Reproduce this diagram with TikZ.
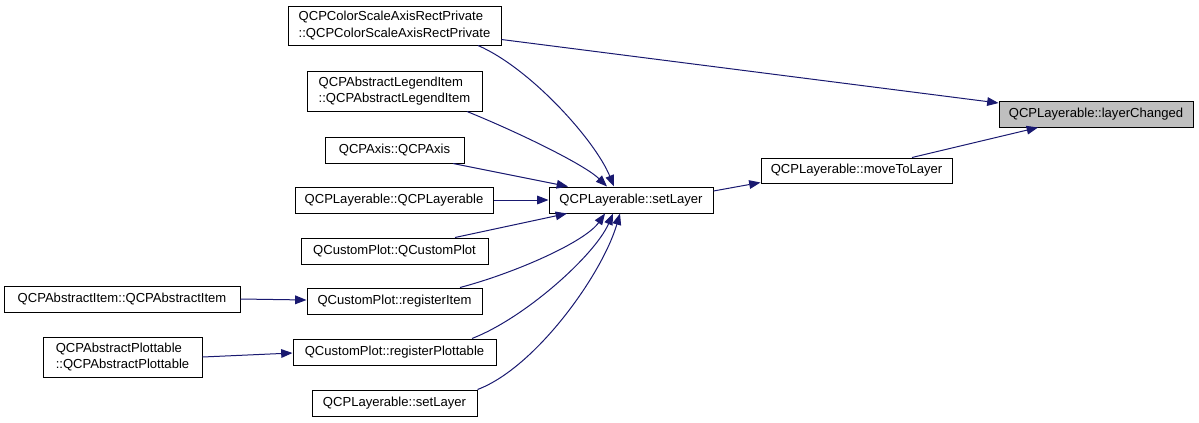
\documentclass[tikz,border=0pt]{standalone}
\usepackage{fontspec}
\setmainfont{Liberation Sans}
\usetikzlibrary{arrows.meta,calc}
\definecolor{edgeblue}{HTML}{191970}
\definecolor{hlgray}{HTML}{BFBFBF}
\begin{document}
\begin{tikzpicture}[x=0.75pt,y=-0.75pt,
  box/.style={draw=black,line width=0.75pt,fill=white,inner sep=1pt,align=left,
    font=\fontsize{9.8}{12.5}\selectfont},
  edge/.style={draw=edgeblue,line width=0.75pt,-{Triangle[length=8.5pt,width=6.5pt]}}]
\useasboundingbox (0,0) rectangle (1199,422);
% nodes
\node[box,minimum width=213*0.75pt,minimum height=39*0.75pt] (cs) at (394.5,25.5) {QCPColorScaleAxisRectPrivate\\::QCPColorScaleAxisRectPrivate};
\node[box,minimum width=175*0.75pt,minimum height=40*0.75pt] (leg) at (394.5,91) {QCPAbstractLegendItem\\::QCPAbstractLegendItem};
\node[box,minimum width=139*0.75pt,minimum height=26*0.75pt] (axis) at (394.5,150) {QCPAxis::QCPAxis};
\node[box,minimum width=198*0.75pt,minimum height=26*0.75pt] (lay) at (394,200) {QCPLayerable::QCPLayerable};
\node[box,minimum width=187*0.75pt,minimum height=26*0.75pt] (cp) at (394.5,251) {QCustomPlot::QCustomPlot};
\node[box,minimum width=175*0.75pt,minimum height=26*0.75pt] (ri) at (394.5,301) {QCustomPlot::registerItem};
\node[box,minimum width=203*0.75pt,minimum height=26*0.75pt] (rp) at (394.5,352) {QCustomPlot::registerPlottable};
\node[box,minimum width=165*0.75pt,minimum height=26*0.75pt] (sltwo) at (394.5,403) {QCPLayerable::setLayer};
\node[box,minimum width=236*0.75pt,minimum height=26*0.75pt] (ai) at (122,299) {QCPAbstractItem::QCPAbstractItem};
\node[box,minimum width=159*0.75pt,minimum height=40*0.75pt] (ap) at (122.5,357) {QCPAbstractPlottable\\::QCPAbstractPlottable};
\node[box,minimum width=164*0.75pt,minimum height=26*0.75pt] (sl) at (631,200) {QCPLayerable::setLayer};
\node[box,minimum width=191*0.75pt,minimum height=25*0.75pt] (mv) at (856.5,170.5) {QCPLayerable::moveToLayer};
\node[box,fill=hlgray,minimum width=194*0.75pt,minimum height=26*0.75pt] (lc) at (1096,114) {QCPLayerable::layerChanged};
% edges
\draw[edge] ($(cs.east)+(0,14)$) -- ($(lc.west)+(0,-11)$);
\draw[edge] ($(cs.south)+(83.5,0)$) .. controls (530,68) and (595,140) .. ($(sl.north)+(-17,0)$);
\draw[edge] ($(leg.south)+(72.5,0)$) .. controls (520,133) and (585,165) .. ($(sl.north)+(-24,0)$);
\draw[edge] ($(axis.south)+(58.5,0)$) -- ($(sl.north)+(-63,0)$);
\draw[edge] (lay.east) -- (sl.west);
\draw[edge] ($(cp.north)+(60.5,0)$) -- ($(sl.south)+(-64,0)$);
\draw[edge] ($(ri.north)+(65.5,0)$) .. controls (515,273) and (585,242) .. ($(sl.south)+(-26,0)$);
\draw[edge] ($(rp.north)+(77.5,0)$) .. controls (525,318) and (595,255) .. ($(sl.south)+(-18,0)$);
\draw[edge] (sltwo.north east) .. controls (535,368) and (602,275) .. ($(sl.south)+(-11,0)$);
\draw[edge] (ai.east) -- ($(ri.west)+(0,-1)$);
\draw[edge] (ap.east) -- ($(rp.west)+(0,1)$);
\draw[edge] ($(sl.east)+(0,-9)$) -- ($(mv.west)+(0,12)$);
\draw[edge] ($(mv.north)+(55.5,0)$) -- ($(lc.south)+(-58,0)$);
\end{tikzpicture}
\end{document}
